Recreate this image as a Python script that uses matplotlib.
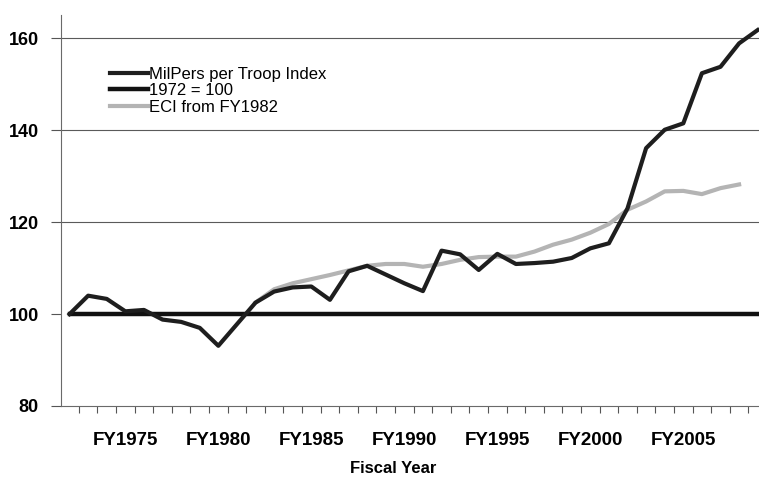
import matplotlib
matplotlib.use("Agg")
import matplotlib.pyplot as plt
from matplotlib.ticker import FixedLocator, NullFormatter

plt.rcParams['font.family'] = ['Liberation Sans', 'DejaVu Sans']

# fiscal years shown on the category axis
years = list(range(1972, 2010))

# MilPers per troop index (1972 = 100)
milpers = [100.0, 104.0, 103.3, 100.6, 100.9, 98.8, 98.3, 97.0, 93.1, 97.8,
           102.5, 104.9, 105.8, 106.0, 103.1, 109.3, 110.5, 108.6, 106.7, 105.0,
           113.8, 113.0, 109.6, 113.1, 110.9, 111.1, 111.4, 112.2, 114.3, 115.4,
           123.0, 136.1, 140.1, 141.5, 152.4, 153.8, 158.9, 161.8]

# reference line
base = [100.0] * len(years)

# ECI index, starting in FY1982
eci_years = list(range(1982, 2009))
eci = [102.5, 105.4, 106.7, 107.6, 108.5, 109.5, 110.5, 110.9, 110.9, 110.3,
       110.9, 111.8, 112.4, 112.5, 112.5, 113.6, 115.1, 116.2, 117.7, 119.6,
       122.7, 124.5, 126.7, 126.8, 126.1, 127.4, 128.2]

tick_years = [1975, 1980, 1985, 1990, 1995, 2000, 2005]
tick_labels = ["FY%d" % y for y in tick_years]

fig = plt.figure(figsize=(7.59, 4.84), dpi=100)
ax = fig.add_axes([61 / 759, 1 - 406 / 484, 1 - 61 / 759, (406 - 15) / 484])

xs = [y - 1972 for y in years]
eci_xs = [y - 1972 for y in eci_years]

for v in [120, 140, 160]:
    ax.axhline(v, color='#5a5a5a', lw=0.8, zorder=1)

ax.plot(xs, milpers, color='#1e1e1e', lw=3.0, label='MilPers per Troop Index', zorder=4)
ax.plot(xs, base, color='#111111', lw=3.2, label='1972 = 100', zorder=3)
ax.plot(eci_xs, eci, color='#b4b4b4', lw=3.0, label='ECI from FY1982', zorder=3.5)

ax.set_xlim(-0.46, 37.07)
ax.set_ylim(80, 165.07)

# boundary ticks without labels, labels at category centres
ax.xaxis.set_major_locator(FixedLocator([i - 0.5 for i in range(len(years) + 1)]))
ax.xaxis.set_major_formatter(NullFormatter())
ax.xaxis.set_minor_locator(FixedLocator([y - 1972 for y in tick_years]))
ax.set_xticklabels(tick_labels, minor=True, fontsize=13.5, fontweight='bold')
ax.tick_params(axis='x', which='major', length=5, width=0.8, color='#555555', direction='out')
ax.tick_params(axis='x', which='minor', length=0, pad=19)

ax.set_yticks([80, 100, 120, 140, 160])
ax.tick_params(axis='y', length=7, width=0.8, color='#555555', pad=9, labelsize=13)
for lab in ax.get_yticklabels():
    lab.set_fontweight('bold')

for side in ['top', 'right']:
    ax.spines[side].set_visible(False)
for side in ['left', 'bottom']:
    ax.spines[side].set_color('#6a6a6a')
    ax.spines[side].set_linewidth(0.8)

ax.set_xlabel('Fiscal Year', fontsize=12, fontweight='bold')
ax.xaxis.set_label_coords((393 - 61) / 698, -(461 - 406) / 391)

leg = ax.legend(loc='upper left', bbox_to_anchor=((110 - 61) / 698, 1 - (67 - 15) / 391),
                frameon=False, fontsize=12, handlelength=2.3, handletextpad=0.05,
                labelspacing=0.08, borderpad=0, borderaxespad=0)

fig.savefig('out.png', dpi=100)
